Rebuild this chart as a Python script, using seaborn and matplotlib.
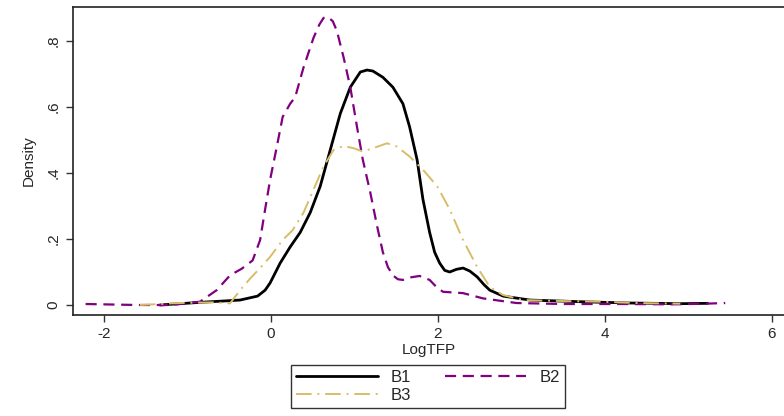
import matplotlib
matplotlib.use("Agg")
import matplotlib.pyplot as plt
import seaborn as sns
import pandas as pd

# ---- data ----
b1_x = [-1.33, -0.85, -0.37, -0.16, -0.07, -0.01, 0.11, 0.23, 0.35, 0.47, 0.59, 0.71, 0.83, 0.95,
        1.07, 1.15, 1.22, 1.34, 1.46, 1.58, 1.66, 1.75, 1.82, 1.90, 1.96, 2.02, 2.08, 2.14, 2.22, 2.30,
        2.38, 2.47, 2.55, 2.62, 2.78, 3.10, 3.70, 4.30, 4.90, 5.23]
b1_y = [0.0, 0.008, 0.015, 0.027, 0.045, 0.067, 0.127, 0.176, 0.22, 0.28, 0.36, 0.47, 0.58, 0.66,
        0.706, 0.712, 0.709, 0.69, 0.66, 0.61, 0.54, 0.44, 0.32, 0.22, 0.16, 0.127, 0.105, 0.10, 0.108,
        0.112, 0.103, 0.085, 0.062, 0.045, 0.027, 0.015, 0.01, 0.006, 0.004, 0.005]

b2_x = [-2.22, -1.6, -1.2, -0.85, -0.65, -0.49, -0.35, -0.22, -0.13, -0.07, -0.01, 0.07, 0.14, 0.23,
        0.29, 0.39, 0.51, 0.58, 0.63, 0.68, 0.74, 0.79, 0.87, 0.95, 1.03, 1.10, 1.19, 1.27, 1.34, 1.40,
        1.46, 1.52, 1.58, 1.68, 1.78, 1.90, 1.98, 2.06, 2.30, 2.54, 2.94, 3.5, 4.2, 4.8, 5.2, 5.44]
b2_y = [0.003, 0.0, 0.0, 0.01, 0.045, 0.09, 0.11, 0.135, 0.197, 0.29, 0.38, 0.48, 0.57, 0.61,
        0.63, 0.72, 0.81, 0.85, 0.87, 0.873, 0.86, 0.83, 0.75, 0.66, 0.54, 0.44, 0.34, 0.24, 0.16, 0.115,
        0.09, 0.078, 0.076, 0.084, 0.088, 0.076, 0.055, 0.04, 0.036, 0.02, 0.006, 0.003, 0.003, 0.002,
        0.004, 0.006]

b3_x = [-1.57, -1.1, -0.7, -0.49, -0.37, -0.25, -0.12, -0.01, 0.14, 0.26, 0.39, 0.51, 0.63, 0.75,
        0.87, 0.99, 1.10, 1.22, 1.39, 1.51, 1.66, 1.82, 1.99, 2.14, 2.30, 2.47, 2.62, 2.78, 3.02,
        3.5, 3.94, 4.4, 4.9]
b3_y = [0.0, 0.006, 0.008, 0.005, 0.045, 0.08, 0.115, 0.146, 0.197, 0.227, 0.28, 0.35, 0.42, 0.47,
        0.482, 0.475, 0.465, 0.475, 0.49, 0.48, 0.45, 0.41, 0.36, 0.29, 0.197, 0.115, 0.055, 0.03, 0.015,
        0.012, 0.01, 0.006, 0.004]

series_names = ["B1", "B2", "B3"]
x_ticks = [-2, 0, 2, 4, 6]
y_ticks = [0, 0.2, 0.4, 0.6, 0.8]
y_tick_labels = ["0", ".2", ".4", ".6", ".8"]

sns.set_theme(style="white")
plt.rcParams["font.family"] = ["Liberation Sans", "DejaVu Sans"]

fig = plt.figure(figsize=(7.84, 4.16), dpi=100)
ax = fig.add_axes([73 / 784, 1 - 315 / 416, 1 - 73 / 784, (315 - 7) / 416])

styles = {
    "B1": dict(color="black", lw=2.0, dashes=None),
    "B2": dict(color="#800080", lw=1.6, dashes=(5, 3)),
    "B3": dict(color="#d8bd68", lw=1.4, dashes=(8, 3, 1, 3)),
}
data = {"B1": (b1_x, b1_y), "B2": (b2_x, b2_y), "B3": (b3_x, b3_y)}

handles = {}
for name in series_names:
    xs, ys = data[name]
    df = pd.DataFrame({"LogTFP": xs, "Density": ys})
    st = styles[name]
    sns.lineplot(data=df, x="LogTFP", y="Density", ax=ax, sort=False,
                 color=st["color"], lw=st["lw"], label=name, legend=False)
    line = ax.lines[-1]
    if st["dashes"] is not None:
        line.set_dashes(st["dashes"])
    handles[name] = line

ax.set_xlim(-2.371, 6.144)
ax.set_ylim(-0.0303, 0.903)
ax.set_xticks(x_ticks)
ax.set_xticklabels([str(t) for t in x_ticks], fontsize=11)
ax.set_yticks(y_ticks)
ax.set_yticklabels(y_tick_labels, fontsize=11, rotation=90, va="center")
ax.tick_params(axis="both", direction="out", length=5, width=1, color="#333333",
               bottom=True, left=True, pad=4)
ax.set_xlabel("LogTFP", fontsize=11, labelpad=1)
ax.set_ylabel("Density", fontsize=11, labelpad=8)

for side in ["left", "bottom", "top"]:
    ax.spines[side].set_visible(True)
    ax.spines[side].set_color("#222222")
    ax.spines[side].set_linewidth(1.2)
ax.spines["right"].set_visible(False)

order = ["B1", "B3", "B2"]  # column-major fill -> row 1: B1 B2, row 2: B3
leg = fig.legend(handles=[handles[n] for n in order], labels=order, ncol=2,
                 loc="upper left", bbox_to_anchor=(291 / 784, 1 - 365 / 416),
                 borderaxespad=0, frameon=True, fancybox=False, edgecolor="black",
                 fontsize=12, handlelength=4.9, columnspacing=2.0, borderpad=0.3,
                 labelspacing=0.15, handletextpad=0.8)
leg.get_frame().set_linewidth(1.0)

fig.savefig("out.png", dpi=100)
